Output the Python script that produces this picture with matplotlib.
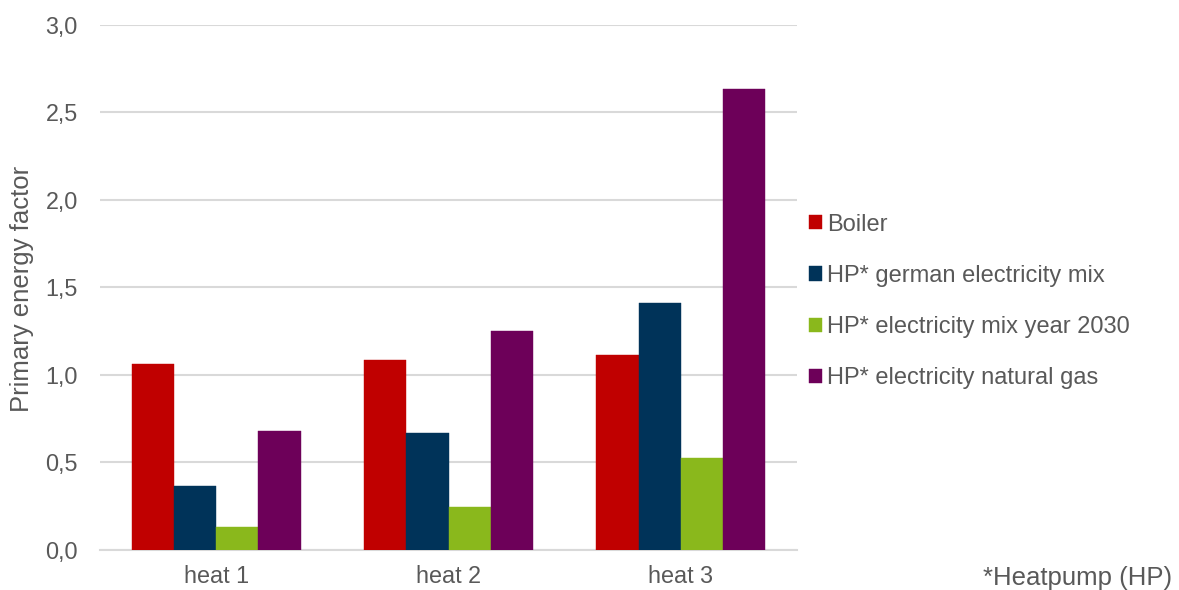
import matplotlib.pyplot as plt
import numpy as np

plt.rcParams['font.family'] = ['Liberation Sans', 'DejaVu Sans']

categories = ["heat 1", "heat 2", "heat 3"]
series = [
    "Boiler",
    "HP* german electricity mix",
    "HP* electricity mix year 2030",
    "HP* electricity natural gas",
]
boiler = [1.06, 1.085, 1.11]
hp_german_mix = [0.365, 0.667, 1.41]
hp_mix_2030 = [0.131, 0.245, 0.522]
hp_natural_gas = [0.68, 1.25, 2.633]
values = [boiler, hp_german_mix, hp_mix_2030, hp_natural_gas]
colors = ["#c00000", "#003359", "#8ab81c", "#6d0059"]
yticks = [0.0, 0.5, 1.0, 1.5, 2.0, 2.5, 3.0]
ytick_labels = ["0,0", "0,5", "1,0", "1,5", "2,0", "2,5", "3,0"]

text_color = "#595959"
grid_color = "#d9d9d9"

W, H = 1179, 590
fig = plt.figure(figsize=(W / 100, H / 100), dpi=100)
ax = fig.add_axes([100 / W, 40.5 / H, 697 / W, 524.5 / H])

x = np.arange(len(categories))
bar_w = 0.182
offsets = (np.arange(len(series)) - 1.5) * bar_w
handles = []
for vals, off, col, name in zip(values, offsets, colors, series):
    h = ax.bar(x + off, vals, width=bar_w, color=col, label=name, zorder=3,
               edgecolor=col, linewidth=0.3)
    handles.append(h)

ax.set_xlim(-0.5, 2.5)
ax.set_ylim(0, 3.0)
ax.set_yticks(yticks)
ax.set_yticklabels(ytick_labels)
ax.set_xticks(x)
ax.set_xticklabels(categories)
ax.yaxis.grid(True, color=grid_color, linewidth=1.5, zorder=0)
ax.set_axisbelow(True)
for s in ["top", "right", "left"]:
    ax.spines[s].set_visible(False)
ax.spines["bottom"].set_color(grid_color)
ax.spines["bottom"].set_linewidth(1.5)
ax.tick_params(axis="both", length=0, labelsize=16.8, colors=text_color)
ax.tick_params(axis="y", pad=16)
ax.tick_params(axis="x", pad=11)

fig.text(22 / W, 1 - 288.5 / H, "Primary energy factor", rotation=90,
         ha="center", va="center", fontsize=18.5, color=text_color)

leg = fig.legend(handles=handles, labels=series, loc="center left",
                 bbox_to_anchor=(809 / W, 1 - 301.5 / H), frameon=False,
                 fontsize=17, handlelength=0.55, handleheight=0.55,
                 handletextpad=0.22, labelspacing=1.24, borderaxespad=0,
                 borderpad=0)
for t in leg.get_texts():
    t.set_color(text_color)

fig.text(1172 / W, 1 - 578 / H, "*Heatpump (HP)", ha="right", va="center",
         fontsize=18.5, color=text_color)

fig.savefig("out.png", dpi=100, facecolor="white")
